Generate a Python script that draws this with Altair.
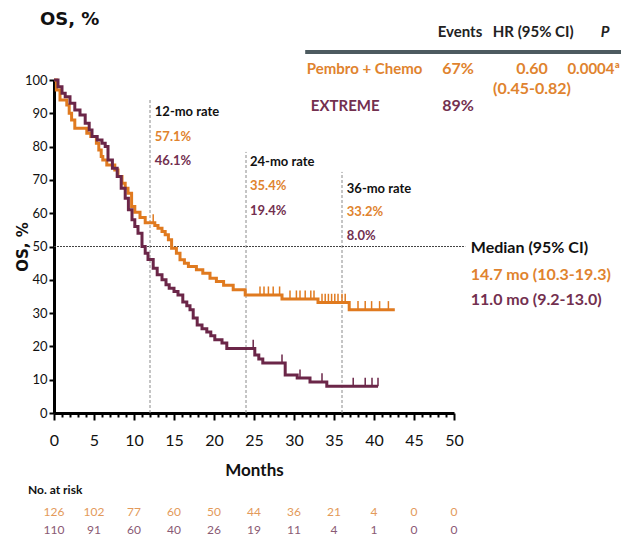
import altair as alt
import pandas as pd

ORANGE = "#E07A1F"
PURPLE = "#6B2648"
ORANGE_T = "#E0832E"
PURPLE_T = "#73304F"
NARROW = "Lato, Roboto, sans-serif"
WIDE = "DejaVu Sans, Verdana, sans-serif"

# ---- KM step data (time in months, survival %) ----
pem_t = [0, 0.3, 0.75, 1.6, 1.9, 2.2, 2.6, 4.1, 4.6, 5.3, 5.6, 5.9, 6.1, 6.6, 7.6, 8.0, 8.5, 8.9, 9.25,
         9.7, 10.1, 10.75, 11.4, 12.6, 13.0, 13.5, 13.9, 14.3, 14.7, 15.3, 15.75, 16.3, 16.8, 17.8, 18.6,
         19.5, 20.3, 21.2, 22.4, 23.9, 28.5, 33.0, 36.9, 42.6]
pem_s = [100, 97, 94, 92.5, 90, 88, 85.5, 84, 83, 81, 79, 77, 76, 74.5, 73, 71, 69, 67.5, 66,
         62, 60.3, 58.7, 57.1, 56.3, 55.5, 54.5, 53.5, 52, 49.5, 48, 46, 45, 44, 43, 42,
         40.5, 39.5, 38.4, 37, 35.4, 34.2, 33.2, 31, 31]
ext_t = [0, 0.5, 1.0, 1.4, 2.0, 2.6, 3.25, 3.9, 4.4, 4.75, 5.4, 6.0, 6.4, 6.75, 7.3, 7.9, 8.4, 8.9, 9.3,
         9.75, 10.1, 10.5, 11.0, 11.4, 11.75, 12.4, 12.9, 13.5, 14.0, 14.4, 15.0, 15.5, 16.1, 16.6, 17.0,
         17.4, 17.9, 18.5, 19.1, 19.6, 20.1, 21.0, 21.6, 25.1, 25.6, 26.1, 28.9, 30.4, 32.0, 34.1, 40.5]
ext_s = [100, 98, 96, 95, 93, 91, 89.5, 87, 85, 83, 82, 81, 80, 76, 73.5, 71, 67.5, 64.5, 61,
         58, 56, 54, 50, 48, 46.1, 43.5, 41.5, 40, 38.5, 37.5, 36.5, 35.4, 33.3, 32.2, 31,
         28.5, 26.4, 25.3, 24.3, 23.2, 22, 21, 19.4, 17.4, 16.2, 15.0, 11.4, 10.5, 9.3, 8.0, 8.0]
pem_cens = [12.4, 25.75, 26.25, 26.8, 27.4, 28.2, 29.5, 30.3, 30.75, 31.4, 32.1, 32.5,
            33.5, 33.9, 34.3, 34.7, 35.1, 35.5, 36.0, 36.4, 38.0, 38.9, 39.7, 40.7, 41.8]
ext_cens = [24.9, 28.5, 30.75, 33.5, 37.4, 38.9, 39.75, 40.5]

arms = ["Pembro + Chemo", "EXTREME"]
risk_months = [0, 5, 10, 15, 20, 25, 30, 35, 40, 45, 50]
risk_pem = [126, 102, 77, 60, 50, 44, 36, 21, 4, 0, 0]
risk_ext = [110, 91, 60, 40, 26, 19, 11, 4, 1, 0, 0]


def level(ts, ss, t):
    v = ss[0]
    for ti, si in zip(ts, ss):
        if ti <= t:
            v = si
    return v


curve_rows = []
for arm, ts, ss in [(arms[0], pem_t, pem_s), (arms[1], ext_t, ext_s)]:
    for i, (t, s) in enumerate(zip(ts, ss)):
        curve_rows.append({"arm": arm, "t": t, "s": s, "o": i})
curves = pd.DataFrame(curve_rows)

cens_rows = []
for arm, ts, ss, cs in [(arms[0], pem_t, pem_s, pem_cens), (arms[1], ext_t, ext_s, ext_cens)]:
    for c in cs:
        lv = level(ts, ss, c)
        cens_rows.append({"arm": arm, "t": c, "s": lv, "s2": lv + 2.6})
cens = pd.DataFrame(cens_rows)

xs = alt.Scale(domain=[0, 50], nice=False, zero=False)
ys = alt.Scale(domain=[0, 100], nice=False, zero=False)
col = alt.Scale(domain=arms, range=[ORANGE, PURPLE])

x_axis = alt.Axis(
    values=list(range(0, 51)),
    labelExpr="datum.value % 5 === 0 ? datum.label : ''",
    tickSize={"condition": {"test": "datum.value % 5 === 0", "value": 7}, "value": 4},
    tickWidth=2, tickColor="black", domainWidth=3, domainColor="black",
    labelFont=NARROW, labelFontSize=16, labelColor="#111", labelPadding=12,
    labelFlush=False, labelOverlap=False,
    title="Months", titleFont=NARROW, titleFontSize=17, titleFontWeight="bold",
    titleColor="#111", titlePadding=14, grid=False,
)
y_axis = alt.Axis(
    values=list(range(0, 101, 10)), tickSize=5, tickWidth=2, tickColor="black",
    domainWidth=3, domainColor="black", labelFont=NARROW, labelFontSize=13,
    labelColor="#111", labelPadding=2, labelFlush=False, labelOverlap=False,
    title="OS, %", titleFont=WIDE,
    titleFontSize=15, titleFontWeight="bold", titleColor="#111",
    titleX=-32, titleBaseline="middle", grid=False,
)


def X(f):
    return alt.X(f, scale=xs, axis=x_axis)


def Y(f):
    return alt.Y(f, scale=ys, axis=y_axis)


# reference lines
vlines = pd.DataFrame({"t": [12, 24, 36], "top": [94, 78.4, 72.4], "bot": [0, 0, 0]})
vl = alt.Chart(vlines).mark_rule(color="#8a8a8a", strokeDash=[3, 2], strokeWidth=1).encode(
    x=X("t:Q"), y=Y("bot:Q"), y2="top:Q")
hl = alt.Chart(pd.DataFrame({"a": [0], "b": [51.4], "s": [50]})).mark_rule(
    color="#444", strokeDash=[2, 1], strokeWidth=1.2).encode(
    x=X("a:Q"), x2="b:Q", y=Y("s:Q"))

lines = alt.Chart(curves).mark_line(interpolate="step-after", strokeWidth=3).encode(
    x=X("t:Q"), y=Y("s:Q"),
    color=alt.Color("arm:N", scale=col, legend=None),
    order="o:Q", detail="arm:N")
ticks = alt.Chart(cens).mark_rule(strokeWidth=1.5).encode(
    x=X("t:Q"), y=Y("s:Q"), y2="s2:Q",
    color=alt.Color("arm:N", scale=col, legend=None))


def txt(rows, size, weight="bold", align="left", font=NARROW, style="normal"):
    df = pd.DataFrame(rows, columns=["x", "y", "t", "c"])
    return alt.Chart(df).mark_text(
        align=align, baseline="middle", fontSize=size, fontWeight=weight, font=font,
        fontStyle=style).encode(
        x=X("x:Q"), y=Y("y:Q"),
        text="t:N", color=alt.Color("c:N", scale=None))


title_t = txt([[-1.75, 118, "OS, %", "#111"]], 18, font=WIDE)
head_t = txt([[50.75, 114.4, "Events", "#222"], [59.9, 114.4, "HR (95% CI)", "#222"]], 15, align="center")
p_t = txt([[68.9, 114.4, "P", "#222"]], 15, align="center", style="italic")
hdr_line = alt.Chart(pd.DataFrame({"a": [31.4], "b": [70.9], "s": [108.4]})).mark_rule(
    color="#4d5b60", strokeWidth=4).encode(
    x=X("a:Q"), x2="b:Q", y=Y("s:Q"))
row_t = txt([
    [31.6, 103.3, "Pembro + Chemo", ORANGE_T],
    [32.1, 92.2, "EXTREME", PURPLE_T],
], 15)
row_c = txt([
    [50.5, 103.3, "67%", ORANGE_T], [59.75, 103.3, "0.60", ORANGE_T],
    [59.75, 97.3, "(0.45-0.82)", ORANGE_T],
    [50.5, 92.2, "89%", PURPLE_T],
], 16, align="center")
p_val = txt([[70.75, 103.3, "0.0004\u00aa", ORANGE_T]], 15, align="right")

ann = txt([
    [12.6, 90.4, "12-mo rate", "#111"], [12.6, 82.9, "57.1%", ORANGE_T], [12.6, 75.7, "46.1%", PURPLE_T],
    [24.5, 75.4, "24-mo rate", "#111"], [24.5, 68.2, "35.4%", ORANGE_T], [24.5, 60.7, "19.4%", PURPLE_T],
    [36.6, 67.3, "36-mo rate", "#111"], [36.6, 60.4, "33.2%", ORANGE_T], [36.6, 53.2, "8.0%", PURPLE_T],
], 13)
med = txt([
    [52.1, 49.5, "Median (95% CI)", "#111"],
    [52.1, 41.4, "14.7 mo (10.3-19.3)", ORANGE_T],
    [52.1, 33.9, "11.0 mo (9.2-13.0)", PURPLE_T],
], 16)

risk_label = txt([[-3.25, -23.1, "No. at risk", "#111"]], 12)
risk_rows = []
for m, a, b in zip(risk_months, risk_pem, risk_ext):
    risk_rows.append([m, -29.7, str(a), "#E39A5A"])
    risk_rows.append([m, -35.1, str(b), "#8A5A74"])
risk = txt(risk_rows, 12, weight="normal", align="center")

chart = alt.layer(
    vl, hl, lines, ticks, title_t, head_t, p_t, hdr_line, row_t, row_c, p_val, ann, med,
    risk_label, risk
).properties(
    width=400, height=333,
    autosize=alt.AutoSizeParams(type="none"),
    padding={"left": 46, "top": 72, "right": 167, "bottom": 125},
).configure_view(stroke=None)

chart.save("out.html", embed_options={"renderer": "svg", "actions": False})
